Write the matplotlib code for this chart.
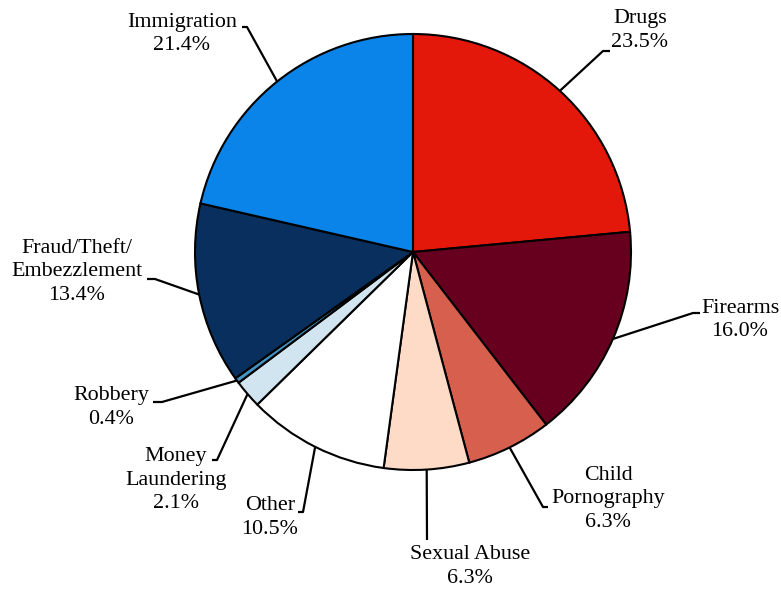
import numpy as np
import matplotlib.pyplot as plt

categories = ['Drugs', 'Firearms', 'Child\nPornography', 'Sexual Abuse', 'Other',
              'Money\nLaundering', 'Robbery', 'Fraud/Theft/\nEmbezzlement', 'Immigration']
shares = [23.5, 16.0, 6.3, 6.3, 10.5, 2.1, 0.4, 13.4, 21.4]
colors = ['#E3170A', '#67001F', '#D6604D', '#FDDBC7', '#FFFFFF',
          '#D1E5F0', '#4393C3', '#082F5E', '#0A84E8']

# layout in pixel coords (y from top): label centre, elbow, end of leader
label_pos = [(640, 30.5), (740, 320), (608, 499), (470, 566.5), (270, 517.5),
             (176, 480), (111, 407.5), (77, 272), (182, 34)]
elbows = [(603, 51), (693, 313), (543, 507), (427, 540), (303, 512),
          (217, 460), (162, 402), (155, 279), (247, 27)]
ends = [(610, 51), (700, 313), (548, 507), (427, 540), (298, 512),
        (212, 460), (153, 402), (147, 279), (242, 27)]

W, H = 781, 590
cx, cy, r = 413, 252, 218

plt.rcParams['font.family'] = ['Liberation Serif', 'DejaVu Serif']

fig = plt.figure(figsize=(W / 100, H / 100), dpi=100)
ax = fig.add_axes([0, 0, 1, 1])

wedges, _ = ax.pie(shares, colors=colors, startangle=90, counterclock=False,
                   center=(cx, H - cy), radius=r,
                   wedgeprops=dict(edgecolor='black', linewidth=1.5))
ax.set_xlim(0, W)
ax.set_ylim(0, H)
ax.set_aspect('equal')
ax.axis('off')

total = sum(shares)
cum = 0
for i, name in enumerate(categories):
    mid = cum + shares[i] / 2
    cum += shares[i]
    ang = np.deg2rad(90 - mid / total * 360)
    x0 = cx + r * np.cos(ang)
    y0 = (H - cy) + r * np.sin(ang)
    ex, ey = elbows[i]
    fx, fy = ends[i]
    ax.plot([x0, ex, fx], [y0, H - ey, H - fy], color='black', lw=1.6,
            solid_capstyle='butt', zorder=3)
    lx, ly = label_pos[i]
    ax.text(lx, H - ly, f'{name}\n{shares[i]:.1f}%', ha='center', va='center',
            multialignment='center', fontsize=15.8, linespacing=1.32)

fig.savefig('out.png', dpi=100)
